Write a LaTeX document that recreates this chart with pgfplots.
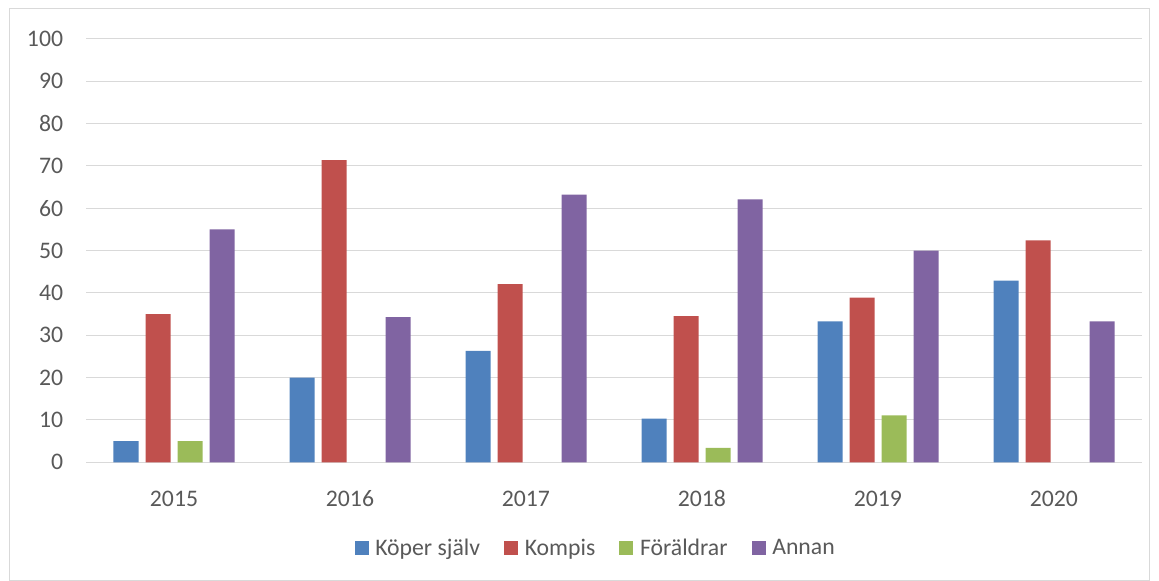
\documentclass[border=0pt]{standalone}
\usepackage{fontspec}
\setmainfont{Carlito}
\usepackage{pgfplots}
\pgfplotsset{compat=1.18}
\definecolor{cblue}{HTML}{4F81BD}
\definecolor{cred}{HTML}{C0504D}
\definecolor{cgreen}{HTML}{9BBB59}
\definecolor{cpurple}{HTML}{8064A2}
\definecolor{txt}{HTML}{595959}
\definecolor{gridc}{HTML}{D9D9D9}
\begin{document}
\begin{tikzpicture}
\useasboundingbox (-64.5pt,-89pt) rectangle (804.75pt,346.7pt);
\draw[gridc, line width=0.75pt] (-57pt,-88.5pt) rectangle (797.25pt,340pt);
\begin{axis}[
  at={(0pt,0pt)}, anchor=south west,
  scale only axis, width=792pt, height=317.5pt,
  xmin=2014.5, xmax=2020.5, ymin=0, ymax=100,
  ybar=5.25pt, bar width=18.75pt,
  xtick={2015,...,2020}, ytick={0,10,...,100},
  axis line style={draw=none},
  tick style={draw=none},
  ymajorgrids,
  major grid style={gridc, line width=0.75pt},
  /pgf/number format/assume math mode=true,
  /pgf/number format/1000 sep={},
  tick label style={font=\fontsize{17.8}{20}\selectfont, text=txt, inner sep=0pt},
  yticklabel style={xshift=-17pt},
  xticklabel style={anchor=north, text height=11.25pt, text depth=0pt, yshift=-17.8pt},
  legend style={at={(0.483,-0.2025)}, anchor=center, draw=none, fill=none,
    font=\fontsize{17.8}{20}\selectfont, text=txt, legend columns=4,
    /tikz/every odd column/.append style={column sep=3pt},
    /tikz/every even column/.append style={column sep=16pt}},
  legend image code/.code={\fill[#1] (0pt,-5.25pt) rectangle (10.5pt,5.25pt);},
]
\addplot[fill=cblue, draw=none] coordinates {(2015,5) (2016,20) (2017,26.3) (2018,10.3) (2019,33.3) (2020,42.9)};
\addplot[fill=cred, draw=none] coordinates {(2015,35) (2016,71.4) (2017,42.1) (2018,34.5) (2019,38.9) (2020,52.4)};
\addplot[fill=cgreen, draw=none] coordinates {(2015,5) (2018,3.4) (2019,11.1)};
\addplot[fill=cpurple, draw=none] coordinates {(2015,55) (2016,34.3) (2017,63.2) (2018,62.1) (2019,50) (2020,33.3)};
\legend{Köper själv, Kompis, Föräldrar, Annan}
\end{axis}
\end{tikzpicture}
\end{document}
